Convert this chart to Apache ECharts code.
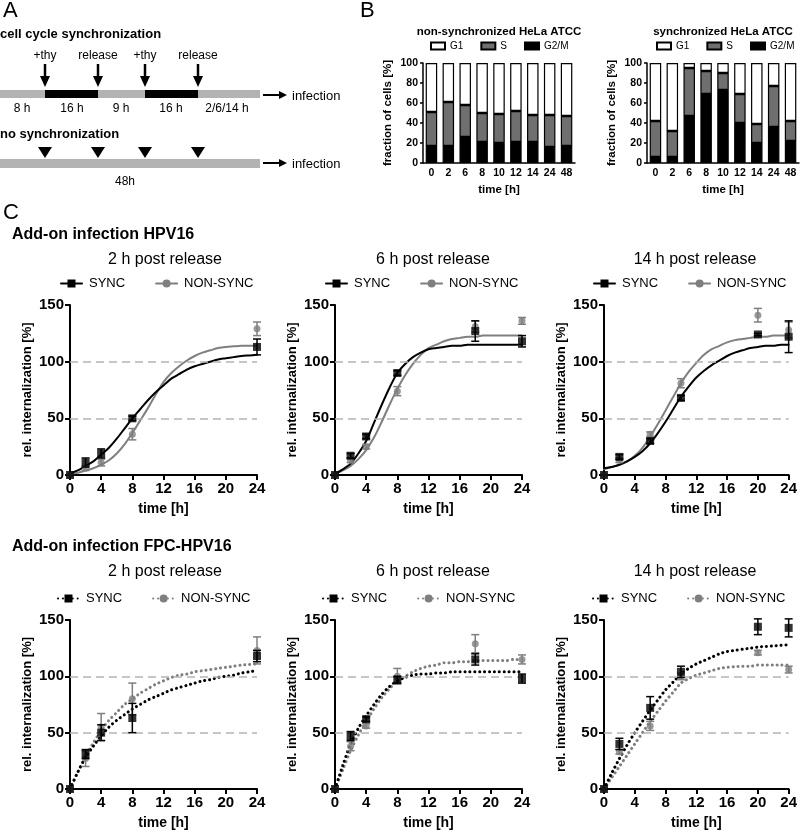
<!DOCTYPE html>
<html><head><meta charset="utf-8">
<script src="https://cdn.jsdelivr.net/npm/echarts@6/dist/echarts.min.js"></script>
<style>html,body{margin:0;padding:0;background:#fff}#c{width:800px;height:833px}</style>
</head><body><div id="c"></div>
<script>
const FONT = '"Liberation Sans", Arial, Helvetica, sans-serif';

// ---------- Panel B data ----------
const cycleTimes = ['0','2','6','8','10','12','14','24','48'];
const nsG2M = [17,17,26,21,20,21,21,16,17];
const nsS   = [34,44,32,29,29,31,27,32,30];
const nsG1  = [49,39,42,50,51,48,52,52,53];
const syG2M = [6,6,47,69,73,40,20,36,22];
const syS   = [36,26,48,23,17,29,19,41,20];
const syG1  = [58,68,5,8,10,31,61,23,58];

// ---------- Panel C data ----------
const fitX = [0,1,2,3,4,5,6,7,8,9,10,11,12,13,14,15,16,17,18,19,20,21,22,23,24];
// HPV16, 2 h
const c1X = [0,2,4,8,24];
const c1Sync = [0,11,19,50,113];
const c1SyncErr = [0,4,4,2,7];
const c1Non = [0,6,11,36,129];
const c1NonErr = [0,2,3,5,6];
const c1SyncFit = [1.5,4,8,12,18,24,32,41,50,58,66,73,79,85,89,93,96,98,100,102,103,104,105,105.5,106];
const c1NonFit = [1,2,4,6,9,13,19,27,37,48,59,71,82,90,96,101,105,108,110,112,113,113.5,114,114,114];
// HPV16, 6 h
const c2X = [0,2,4,8,18,24];
const c2Sync = [0,17,34,90,127,118];
const c2SyncErr = [0,2,2,2,9,5];
const c2Non = [0,13,25,74,131,136];
const c2NonErr = [0,2,2,4,5,3];
const c2SyncFit = [1,5,10,19,30,46,62,77,90,98,104,108,111,112,113,114,114,115,115,115,115,115,115,115,115];
const c2NonFit = [1,4,8,14,22,33,47,62,76,88,98,106,112,115,118,120,121,122,122,123,123,123,123,123,123];
// HPV16, 14 h
const c3X = [0,2,6,10,20,24];
const c3Sync = [0,16,30,68,124,122];
const c3SyncErr = [0,2,2,2,1,14];
const c3Non = [0,13,36,81,141,128];
const c3NonErr = [0,2,2,4,6,7];
const c3SyncFit = [6,7,9,12,16,21,28,37,47,58,69,78,86,92,97,101,105,108,110,112,113,114,114,115,115];
const c3NonFit = [5,7,9,12,17,24,34,45,57,69,81,91,99,106,111,114,117,119,120,121,122,122,123,123,123];
// FPC-HPV16, 2 h
const c4X = [0,2,4,8,24];
const c4Sync = [0,31,50,63,118];
const c4SyncErr = [0,4,7,13,5];
const c4Non = [0,27,55,80,123];
const c4NonErr = [0,7,12,14,12];
const c4SyncFit = [0,15,28,38,47,55,61,66,71,75,79,82,85,88,90,92,94,96,97,99,100,101,103,104,105];
const c4NonFit = [0,15,29,41,52,61,68,75,80,85,89,93,96,99,101,102,104,105,106,107,108,109,110,110.5,111];
// FPC-HPV16, 6 h
const c5X = [0,2,4,8,18,24];
const c5Sync = [0,47,62,97,115,98];
const c5SyncErr = [0,4,2,3,5,4];
const c5Non = [0,38,56,100,129,115];
const c5NonErr = [0,4,2,7,8,4];
const c5SyncFit = [0,21,40,54,65,75,84,91,96,99,101,102,102,103,103,104,104,104,104,104,104,104,104,104,104];
const c5NonFit = [0,17,34,48,60,71,81,89,96,100,104,107,109,110,112,112,113,113,114,114,114,114,114,115,115];
// FPC-HPV16, 14 h
const c6X = [0,2,6,10,20,24];
const c6Sync = [0,40,72,104,144,143];
const c6SyncErr = [0,5,10,5,7,8];
const c6Non = [0,33,56,100,121,106];
const c6NonErr = [0,2,4,3,2,3];
const c6SyncFit = [0,14,27,39,50,60,70,79,88,95,102,107,111,114,117,120,122,123,124,125,126,126.5,127,127.5,128];
const c6NonFit = [0,10,20,30,40,50,60,69,78,86,94,98,101,103,105,107,108,108.5,109,109,110,110,110,110,110];

const timeTicks = [0,4,8,12,16,20,24];
const internTicks = [0,50,100,150];
const refLevels = [50,100];

const BLACK = '#000000', GRAY = '#7f7f7f', SGRAY = '#6f6f6f';

const chart = echarts.init(document.getElementById('c'), null, {renderer:'canvas'});

const grids = [], xAxes = [], yAxes = [], series = [], legends = [], graphics = [];

function txt(x, y, text, size, opts) {
  opts = opts || {};
  graphics.push({type:'text', x:x, y:y, silent:true, style:{
    text:text, fill:'#000', fontSize:size, fontFamily:FONT, fontWeight:opts.bold?'bold':'normal',
    align:opts.align||'left', textAlign:opts.align||'left', verticalAlign:'middle', textVerticalAlign:'middle'}});
}

// ---------- Panel B (bars) ----------
function barPanel(idx, left, nameSuffix, g2m, s, g1, title, legLeft) {
  grids.push({left:left, top:63, width:152, height:100});
  xAxes.push({type:'category', gridIndex:idx, data:cycleTimes,
    axisLine:{lineStyle:{color:'#000', width:1.5}}, axisTick:{show:false},
    axisLabel:{color:'#000', fontWeight:'bold', fontSize:10.5, fontFamily:FONT, margin:5, interval:0},
    name:'time [h]', nameLocation:'middle', nameGap:21,
    nameTextStyle:{color:'#000', fontWeight:'bold', fontSize:11.5, fontFamily:FONT}});
  yAxes.push({type:'value', gridIndex:idx, min:0, max:100, interval:20,
    axisLine:{show:true, lineStyle:{color:'#000', width:1.5}},
    axisTick:{show:true, length:3, lineStyle:{color:'#000', width:1.5}}, splitLine:{show:false},
    axisLabel:{color:'#000', fontWeight:'bold', fontSize:10.5, fontFamily:FONT, margin:5},
    name:'fraction of cells [%]', nameLocation:'middle', nameGap:29,
    nameTextStyle:{color:'#000', fontWeight:'bold', fontSize:11.5, fontFamily:FONT}});
  const parts = [['G2/M', g2m, '#000'], ['S', s, SGRAY], ['G1', g1, '#fff']];
  parts.forEach(p => series.push({type:'bar', name:p[0]+'#'+nameSuffix, xAxisIndex:idx, yAxisIndex:idx,
    stack:'st'+nameSuffix, data:p[1], barWidth:11.5,
    itemStyle:{color:p[2], borderColor:'#000', borderWidth:1.2}}));
  legends.push({left:legLeft, top:41, padding:0, width:160, itemWidth:14, itemHeight:7, itemGap:17, icon:'rect',
    data:['G1#'+nameSuffix,'S#'+nameSuffix,'G2/M#'+nameSuffix], selectedMode:false,
    formatter:n=>n.split('#')[0], textStyle:{fontSize:10, fontFamily:FONT, color:'#000'}});
  txt(left+76, 32, title, 11.5, {bold:true, align:'center'});
}
barPanel(0, 423, 'L', nsG2M, nsS, nsG1, 'non-synchronized HeLa ATCC', 430);
barPanel(1, 647, 'R', syG2M, syS, syG1, 'synchronized HeLa ATCC', 656);

// ---------- Panel C (lines) ----------
function errRenderer(color) {
  return function(params, api) {
    const x = api.value(0), y = api.value(1), e = api.value(2);
    if (!e) return null;
    const t = api.coord([x, y + e]), b = api.coord([x, y - e]);
    const st = {stroke:color, lineWidth:1.5};
    return {type:'group', children:[
      {type:'line', shape:{x1:t[0], y1:t[1], x2:b[0], y2:b[1]}, style:st},
      {type:'line', shape:{x1:t[0]-4, y1:t[1], x2:t[0]+4, y2:t[1]}, style:st},
      {type:'line', shape:{x1:b[0]-4, y1:b[1], x2:b[0]+4, y2:b[1]}, style:st}
    ]};
  };
}
function zip(a, b) { return a.map((v, i) => [v, b[i]]); }
function zip3(a, b, c) { return a.map((v, i) => [v, b[i], c[i]]); }

const lineCharts = [
  {left:70,  top:305, h:170, title:'2 h post release',  tx:165, ty:260, lx:60,  ly:277, X:c1X, S:c1Sync, SE:c1SyncErr, N:c1Non, NE:c1NonErr, SF:c1SyncFit, NF:c1NonFit, dotted:false},
  {left:335, top:305, h:170, title:'6 h post release',  tx:433, ty:260, lx:325, ly:277, X:c2X, S:c2Sync, SE:c2SyncErr, N:c2Non, NE:c2NonErr, SF:c2SyncFit, NF:c2NonFit, dotted:false},
  {left:604, top:305, h:170, title:'14 h post release', tx:695, ty:260, lx:593, ly:277, X:c3X, S:c3Sync, SE:c3SyncErr, N:c3Non, NE:c3NonErr, SF:c3SyncFit, NF:c3NonFit, dotted:false},
  {left:70,  top:620, h:169, title:'2 h post release',  tx:165, ty:572, lx:57,  ly:592, X:c4X, S:c4Sync, SE:c4SyncErr, N:c4Non, NE:c4NonErr, SF:c4SyncFit, NF:c4NonFit, dotted:true},
  {left:335, top:620, h:169, title:'6 h post release',  tx:433, ty:572, lx:322, ly:592, X:c5X, S:c5Sync, SE:c5SyncErr, N:c5Non, NE:c5NonErr, SF:c5SyncFit, NF:c5NonFit, dotted:true},
  {left:604, top:620, h:169, title:'14 h post release', tx:695, ty:572, lx:592, ly:592, X:c6X, S:c6Sync, SE:c6SyncErr, N:c6Non, NE:c6NonErr, SF:c6SyncFit, NF:c6NonFit, dotted:true}
];

lineCharts.forEach((c, i) => {
  const gi = i + 2;
  grids.push({left:c.left, top:c.top, width:187, height:c.h});
  xAxes.push({type:'value', gridIndex:gi, min:timeTicks[0], max:timeTicks[timeTicks.length-1], interval:timeTicks[1]-timeTicks[0],
    axisLine:{show:true, onZero:false, lineStyle:{color:'#000', width:2}},
    axisTick:{show:true, length:5, lineStyle:{color:'#000', width:2}}, splitLine:{show:false},
    axisLabel:{color:'#000', fontWeight:'bold', fontSize:15, fontFamily:FONT, margin:6},
    name:'time [h]', nameLocation:'middle', nameGap:27,
    nameTextStyle:{color:'#000', fontWeight:'bold', fontSize:14, fontFamily:FONT}});
  yAxes.push({type:'value', gridIndex:gi, min:internTicks[0], max:internTicks[internTicks.length-1], interval:internTicks[1]-internTicks[0],
    axisLine:{show:true, onZero:false, lineStyle:{color:'#000', width:2}},
    axisTick:{show:true, length:5, lineStyle:{color:'#000', width:2}}, splitLine:{show:false},
    axisLabel:{color:'#000', fontWeight:'bold', fontSize:15, fontFamily:FONT, margin:6},
    name:'rel. internalization [%]', nameLocation:'middle', nameGap:36,
    nameTextStyle:{color:'#000', fontWeight:'bold', fontSize:13, fontFamily:FONT}});
  const lt = c.dotted ? [0.1, 4.8] : 'solid';
  const lw = c.dotted ? 3 : 2;
  series.push({type:'line', name:'NON-SYNC#'+i, xAxisIndex:gi, yAxisIndex:gi, data:zip(fitX, c.NF),
    smooth:0.3, symbol:'circle', symbolSize:7, showSymbol:false,
    lineStyle:{color:GRAY, width:lw, type:lt, cap:'round'}, itemStyle:{color:GRAY}, z:2,
    markLine:{silent:true, symbol:'none', label:{show:false}, animation:false,
      lineStyle:{color:'#b4b4b4', type:[8,5], width:1.5, cap:'butt'},
      data:refLevels.map(v => ({yAxis:v}))}});
  series.push({type:'line', name:'SYNC#'+i, xAxisIndex:gi, yAxisIndex:gi, data:zip(fitX, c.SF),
    smooth:0.3, symbol:'rect', symbolSize:8, showSymbol:false,
    lineStyle:{color:BLACK, width:lw, type:lt, cap:'round'}, itemStyle:{color:BLACK}, z:3});
  series.push({type:'custom', name:'nerr'+i, xAxisIndex:gi, yAxisIndex:gi, data:zip3(c.X, c.N, c.NE),
    renderItem:errRenderer(GRAY), encode:{x:0, y:1}, clip:false, z:4});
  series.push({type:'scatter', name:'npts'+i, xAxisIndex:gi, yAxisIndex:gi, data:zip(c.X, c.N),
    symbol:'circle', symbolSize:7, itemStyle:{color:GRAY}, clip:false, z:5});
  series.push({type:'custom', name:'serr'+i, xAxisIndex:gi, yAxisIndex:gi, data:zip3(c.X, c.S, c.SE),
    renderItem:errRenderer(BLACK), encode:{x:0, y:1}, clip:false, z:6});
  series.push({type:'scatter', name:'spts'+i, xAxisIndex:gi, yAxisIndex:gi, data:zip(c.X, c.S),
    symbol:'rect', symbolSize:8, itemStyle:{color:BLACK}, clip:false, z:7});
  legends.push({left:c.lx, top:c.ly, padding:0, itemWidth:21, itemHeight:10, itemGap:30, selectedMode:false,
    data:['SYNC#'+i, 'NON-SYNC#'+i], formatter:n=>n.split('#')[0],
    textStyle:{fontSize:13, fontFamily:FONT, color:'#000', padding:[0,0,0,2]}});
  txt(c.tx, c.ty, c.title, 16, {align:'center'});
});

// ---------- Panel labels & headings ----------
txt(3, 11, 'A', 22);
txt(360, 11, 'B', 22);
txt(3, 213, 'C', 22);
txt(12, 235, 'Add-on infection HPV16', 16, {bold:true});
txt(12, 547, 'Add-on infection FPC-HPV16', 16, {bold:true});

// ---------- Panel A schematic ----------
txt(0, 34, 'cell cycle synchronization', 13, {bold:true});
graphics.push({type:'rect', shape:{x:0, y:90, width:260, height:8}, style:{fill:'#b3b3b3'}, silent:true});
graphics.push({type:'rect', shape:{x:45, y:90, width:53, height:8}, style:{fill:'#000'}, silent:true});
graphics.push({type:'rect', shape:{x:145, y:90, width:53, height:8}, style:{fill:'#000'}, silent:true});
[[45,'+thy'],[98,'release'],[145,'+thy'],[198,'release']].forEach(a => {
  graphics.push({type:'line', shape:{x1:a[0], y1:64, x2:a[0], y2:79}, style:{stroke:'#000', lineWidth:2.5}, silent:true});
  graphics.push({type:'polygon', shape:{points:[[a[0]-5,76],[a[0]+5,76],[a[0],87]]}, style:{fill:'#000'}, silent:true});
  txt(a[0], 56, a[1], 12, {align:'center'});
});
[[22,'8 h'],[72,'16 h'],[121,'9 h'],[171,'16 h'],[227,'2/6/14 h']].forEach(a => txt(a[0], 109, a[1], 12, {align:'center'}));
function infArrow(y) {
  graphics.push({type:'line', shape:{x1:263, y1:y, x2:281, y2:y}, style:{stroke:'#000', lineWidth:2}, silent:true});
  graphics.push({type:'polygon', shape:{points:[[279,y-4],[279,y+4],[287,y]]}, style:{fill:'#000'}, silent:true});
  txt(292, y+1, 'infection', 13);
}
infArrow(95);
txt(0, 134, 'no synchronization', 13, {bold:true});
[45,98,145,198].forEach(x => graphics.push({type:'polygon', shape:{points:[[x-7,147],[x+7,147],[x,158]]}, style:{fill:'#000'}, silent:true}));
graphics.push({type:'rect', shape:{x:0, y:159, width:260, height:9}, style:{fill:'#b3b3b3'}, silent:true});
infArrow(163);
txt(125, 182, '48h', 12, {align:'center'});

chart.setOption({
  animation:false,
  textStyle:{fontFamily:FONT},
  grid:grids, xAxis:xAxes, yAxis:yAxes, series:series, legend:legends,
  graphic:{elements:graphics}
});
</script></body></html>
